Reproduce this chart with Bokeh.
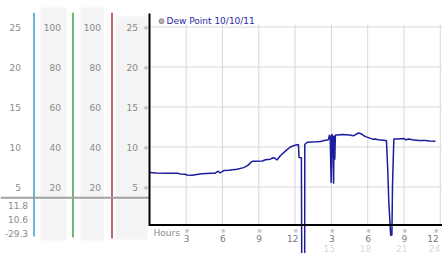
from bokeh.plotting import figure
from bokeh.models import Range1d
from bokeh.core.properties import value
from bokeh.embed import file_html
from bokeh.resources import INLINE

# ---------------- data ----------------
hours = [0.0, 0.5, 1.5, 2.3, 2.5, 2.9, 3.05, 3.5, 4.0, 4.3, 5.0, 5.4, 5.65, 5.8,
         6.1, 6.5, 7.2, 7.75, 8.1, 8.4, 8.5, 9.3, 9.55, 9.95, 10.2, 10.35, 10.5,
         10.8, 11.2, 11.6, 12.0, 12.28, 12.32, 12.52, 12.6, 12.78, 12.8, 13.0,
         13.7, 14.1, 14.4, 14.75, 14.84, 14.9, 14.98, 15.03, 15.1, 15.18, 15.22,
         15.28, 15.33, 15.5, 15.9, 16.5, 16.8, 17.25, 17.5, 17.8, 18.0, 18.4,
         18.6, 18.9, 19.47, 19.55, 19.66, 19.74, 19.9, 20.0, 20.05, 20.16, 20.5,
         21.0, 21.15, 21.4, 21.7, 22.2, 22.8, 23.1, 23.6]
dew_point = [6.8, 6.75, 6.73, 6.73, 6.62, 6.6, 6.5, 6.48, 6.6, 6.65, 6.73, 6.73,
             6.98, 6.75, 7.06, 7.1, 7.23, 7.42, 7.7, 8.15, 8.23, 8.25, 8.4, 8.48,
             8.65, 8.6, 8.38, 8.94, 9.48, 10.0, 10.23, 10.31, 8.7, 8.65, -29.3,
             -29.3, 10.31, 10.6, 10.65, 10.7, 10.8, 10.9, 11.5, 11.3, 5.5, 11.6,
             11.4, 5.4, 11.4, 8.4, 11.5, 11.5, 11.56, 11.5, 11.4, 11.75, 11.62,
             11.3, 11.2, 10.98, 11.0, 10.9, 10.8, 10.8, 7.0, 3.3, -1.05, -1.0,
             5.2, 11.0, 11.0, 11.06, 10.9, 11.0, 10.9, 10.8, 10.8, 10.75, 10.73]

dew_ticks = [25, 20, 15, 10, 5]
dew_tick_labels = ["25", "20", "15", "10", "5"]
hum_ticks = [100, 80, 60, 40, 20]
hum_tick_labels = ["100", "80", "60", "40", "20"]
hour_ticks = [3, 6, 9, 12, 15, 18, 21, 24]
hour_labels = ["3", "6", "9", "12", "3", "6", "9", "12"]
hour_ticks_pm = [15, 18, 21, 24]
hour_labels_24 = ["15", "18", "21", "24"]
stat_labels = ["11.8", "10.6", "-29.3"]
legend_label = "Dew Point 10/10/11"

# ---------------- layout ----------------
W, H = 442, 253
X0, PXH = 149.4, 12.1      # pixel of hour 0, pixels per hour
Y0, PXV = 226.5, 8.0       # pixel of value 0, pixels per unit

FONT = value("DejaVu Sans")
FS = "9px"
GRAY = "#8a8a8a"

p = figure(width=W, height=H, output_backend="svg", toolbar_location=None,
           x_axis_type=None, y_axis_type=None, min_border=0,
           x_range=Range1d(-X0 / PXH, (W - X0) / PXH),
           y_range=Range1d((Y0 - H) / PXV, Y0 / PXV))
p.outline_line_color = None
p.background_fill_color = "white"
p.border_fill_color = "white"
p.extra_x_ranges = {"px": Range1d(0, W)}
p.extra_y_ranges = {"py": Range1d(H, 0),
                    "hum": Range1d(4 * (Y0 - H) / PXV, 4 * Y0 / PXV)}

# left panel bands
p.quad(left=[40, 80, 115], right=[65.7, 103.5, 147], top=[7, 7, 16],
       bottom=[240, 240, 239], x_range_name="px", y_range_name="py",
       fill_color="#f4f4f4", line_color=None)
# coloured axis lines
p.segment(x0=[33.5, 72.5, 111.5], x1=[33.5, 72.5, 111.5], y0=[12.3, 12.3, 12.3],
          y1=[236, 237, 238], x_range_name="px", y_range_name="py",
          line_color=["#3a9ec9", "#3aa33a", "#b03030"], line_width=1.5)
# separator
p.segment(x0=[0], x1=[149], y0=[197.3], y1=[197.3], x_range_name="px",
          y_range_name="py", line_color="#a0a0a0", line_width=2)

# left labels
p.text(x=[20.5] * 5, y=dew_ticks, text=dew_tick_labels, x_range_name="px",
       text_align="right", text_baseline="middle", text_font=FONT,
       text_font_size=FS, text_color=GRAY)
p.text(x=[60.5] * 5, y=hum_ticks, text=hum_tick_labels, x_range_name="px",
       y_range_name="hum", text_align="right", text_baseline="middle",
       text_font=FONT, text_font_size=FS, text_color=GRAY)
p.text(x=[100.5] * 5, y=hum_ticks, text=hum_tick_labels, x_range_name="px",
       y_range_name="hum", text_align="right", text_baseline="middle",
       text_font=FONT, text_font_size=FS, text_color=GRAY)
p.text(x=[137.5] * 5, y=dew_ticks, text=dew_tick_labels, x_range_name="px",
       text_align="right", text_baseline="middle", text_font=FONT,
       text_font_size=FS, text_color=GRAY)
p.text(x=[145.5] * 5, y=dew_ticks, text=["※"] * 5, x_range_name="px",
       text_align="center", text_baseline="middle", text_font=FONT,
       text_font_size="6px", text_color="#9a9a9a")
p.text(x=[27.5] * 3, y=[205, 219, 232.7], text=stat_labels, x_range_name="px",
       y_range_name="py", text_align="right", text_baseline="middle",
       text_font=FONT, text_font_size=FS, text_color=GRAY)

# grid
p.segment(x0=hour_ticks, x1=hour_ticks, y0=[24] * 8, y1=[224] * 8,
          y_range_name="py", line_color="#d8d8d8", line_width=1)
p.segment(x0=[149] * 5, x1=[W] * 5, y0=dew_ticks, y1=dew_ticks,
          x_range_name="px", line_color="#d8d8d8", line_width=1)

# data line
p.line(hours, dew_point, line_color="#1c1c9e", line_width=1.5)

# axes lines
p.segment(x0=[149, 149], x1=[149, W], y0=[13, 224.5], y1=[225.5, 224.5],
          x_range_name="px", y_range_name="py", line_color="black", line_width=2)

# bottom axis labels
offs = [3.3] * 7 + [-1.5]
p.text(x=[153], y=[232], text=["Hours"], x_range_name="px", y_range_name="py",
       text_align="left", text_baseline="middle", text_font=FONT,
       text_font_size=FS, text_color=GRAY)
p.text(x=hour_ticks, y=[230] * 8, text=["※"] * 8, x_offset=offs,
       y_range_name="py", text_align="right", text_baseline="middle",
       text_font=FONT, text_font_size="6px", text_color="#9a9a9a")
p.text(x=hour_ticks, y=[238.3] * 8, text=hour_labels, x_offset=offs,
       y_range_name="py", text_align="right", text_baseline="middle",
       text_font=FONT, text_font_size=FS, text_color="#7a7a7a")
p.text(x=hour_ticks_pm, y=[248.3] * 4, text=hour_labels_24,
       x_offset=[3.5, 3.5, 3.5, 0], y_range_name="py", text_align="right",
       text_baseline="middle", text_font=FONT, text_font_size=FS,
       text_color="#d8d8d8")

# legend
p.scatter(x=[161], y=[20.7], x_range_name="px", y_range_name="py", size=5,
          fill_color="#b4b4b4", line_color="#888888", line_width=1)
p.text(x=[166], y=[20.7], text=[legend_label], x_range_name="px",
       y_range_name="py", text_align="left", text_baseline="middle",
       text_font=FONT, text_font_size=FS, text_color="#2a2aa5")

open("out.html", "w").write(file_html(p, INLINE))
